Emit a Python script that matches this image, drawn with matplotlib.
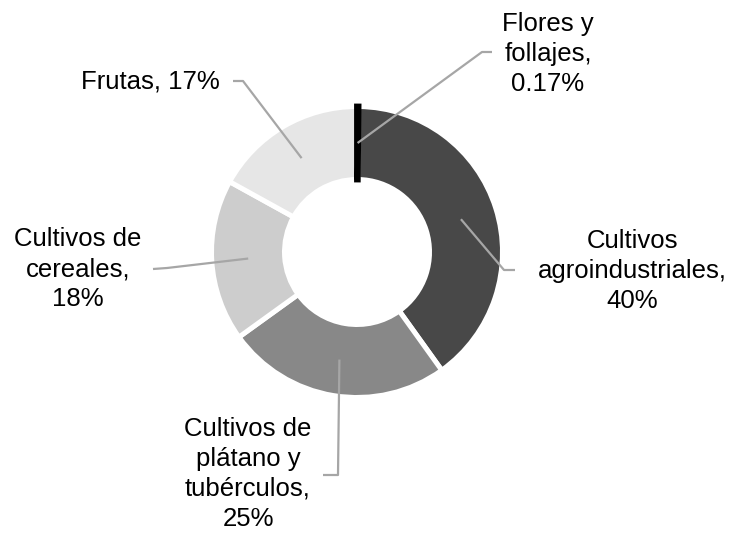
import matplotlib.pyplot as plt
import numpy as np

plt.rcParams['font.family'] = ['Liberation Sans', 'DejaVu Sans']

# data, clockwise from the top
labels = ['Flores y\nfollajes,\n0.17%',
          'Cultivos\nagroindustriales,\n40%',
          'Cultivos de\nplátano y\ntubérculos,\n25%',
          'Cultivos de\ncereales,\n18%',
          'Frutas, 17%']
values = [0.17, 40, 25, 18, 17]
colors = ['#000000', '#484848', '#888888', '#cdcdcd', '#e6e6e6']

# layout in pixels (y from top)
W, H = 734, 535
cx, cy = 357, 252
r_out, r_in = 145.5, 72.5
text_pos = [(548, 54), (632, 271), (248, 474), (78, 269), (150, 82)]
elbows = [[(482, 52), (492, 52)],
          [(504, 270), (515, 270)],
          [(338, 475), (323, 475)],
          [(167, 268), (153, 269)],
          [(243, 81), (233, 81)]]

fig = plt.figure(figsize=(W / 100, H / 100), dpi=100)
ax = fig.add_axes([0, 0, 1, 1])

wedges, _ = ax.pie(values, colors=colors, startangle=90, counterclock=False,
                   center=(cx, H - cy), radius=r_out,
                   wedgeprops=dict(width=r_out - r_in, edgecolor='white', linewidth=3.6))

# the tiny slice is drawn as a black bar on top
wedges[0].set_edgecolor('black')
wedges[0].set_linewidth(4.2)
wedges[0].set_joinstyle('miter')
wedges[0].set_zorder(5)

r_mid = (r_out + r_in) / 2
for w, lab, (tx, ty), elb in zip(wedges, labels, text_pos, elbows):
    ang = np.deg2rad((w.theta1 + w.theta2) / 2)
    px = cx + r_mid * np.cos(ang)
    py = cy - r_mid * np.sin(ang)
    xs = [px] + [e[0] for e in elb]
    ys = [H - py] + [H - e[1] for e in elb]
    ax.plot(xs, ys, color='#a6a6a6', lw=1.6, zorder=6, solid_capstyle='butt')
    ax.text(tx, H - ty, lab, ha='center', va='center', multialignment='center',
            fontsize=18.5, linespacing=1.3, color='black')

ax.set_xlim(0, W)
ax.set_ylim(0, H)
ax.set_aspect('equal')
ax.axis('off')

plt.savefig('out.png', dpi=100)
